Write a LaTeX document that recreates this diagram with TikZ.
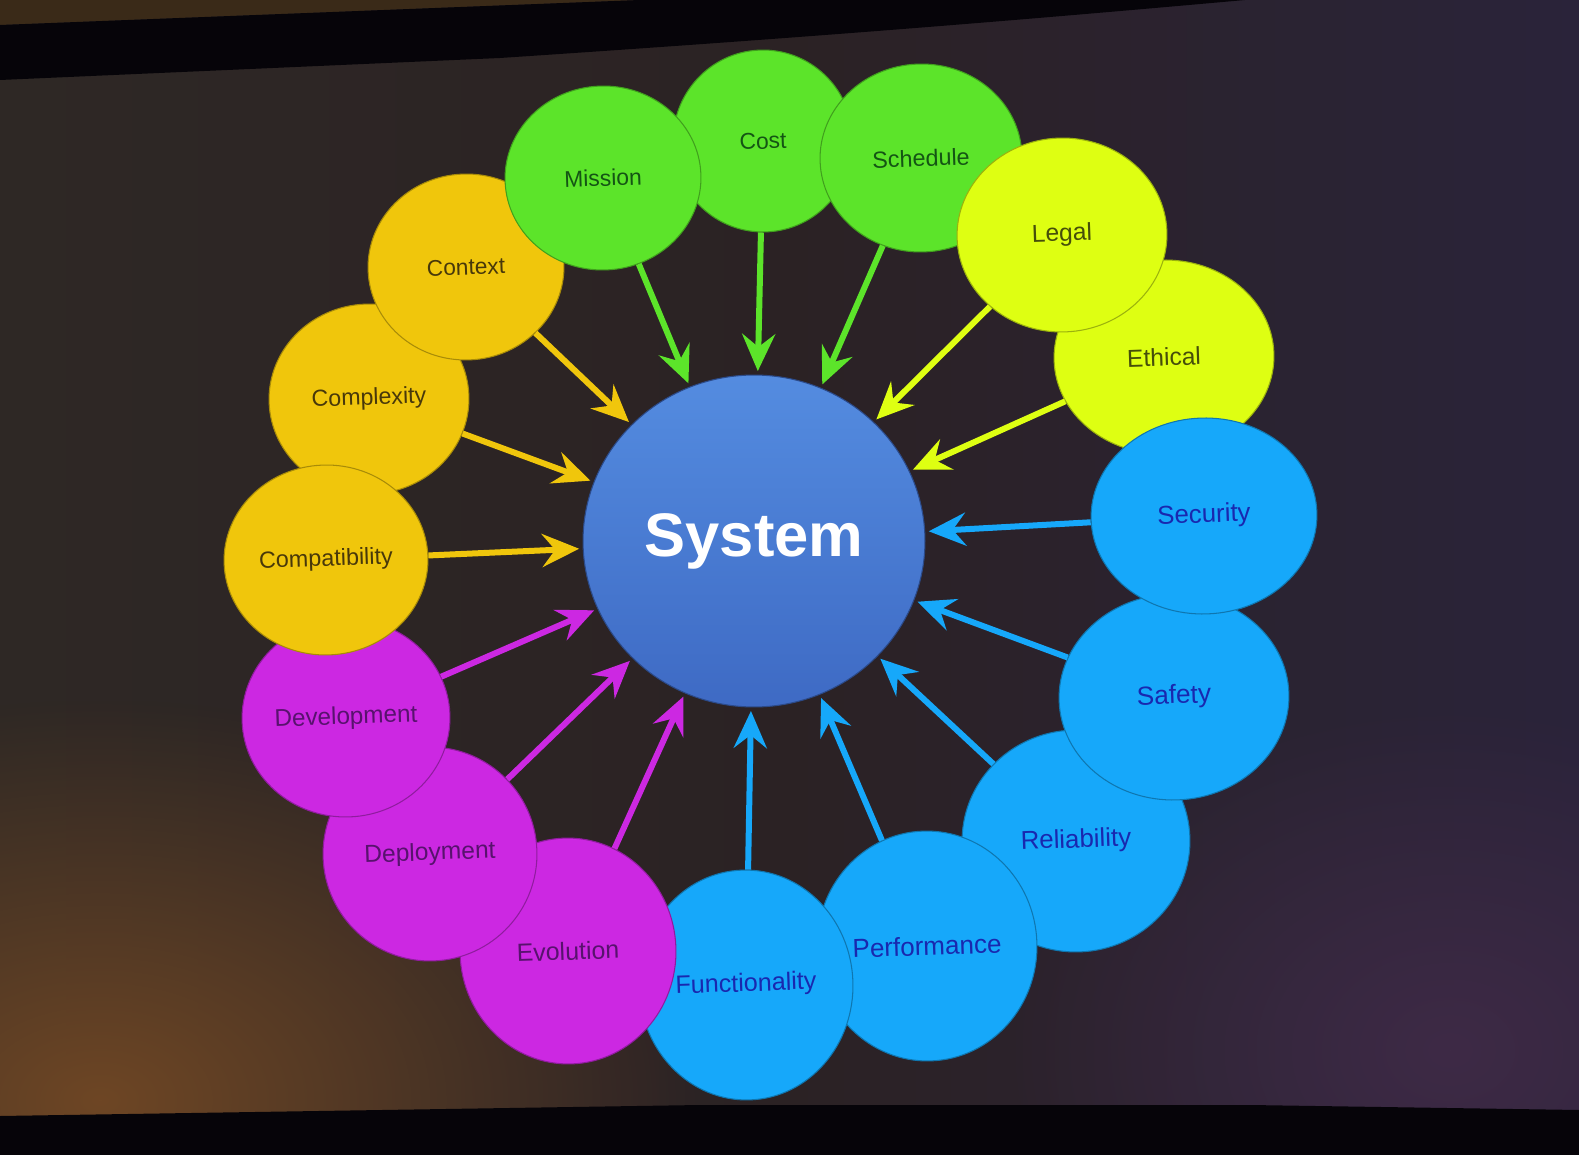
\documentclass[tikz,border=0pt]{standalone}
\usepackage{fontspec}
\setmainfont{Liberation Sans}
\usetikzlibrary{shapes.geometric,arrows.meta,fadings}
\definecolor{slideL}{RGB}{46,40,37}
\definecolor{slideM}{RGB}{43,34,36}
\definecolor{slideR}{RGB}{42,35,58}
\definecolor{topbrown}{RGB}{58,42,24}
\definecolor{bandblack}{RGB}{6,4,9}
\definecolor{warmglow}{RGB}{110,70,36}
\definecolor{purpglow}{RGB}{62,42,70}
\definecolor{cgreen}{RGB}{92,228,42}
\definecolor{cgreentx}{RGB}{20,85,20}
\definecolor{clime}{RGB}{222,255,18}
\definecolor{climetx}{RGB}{70,78,10}
\definecolor{cgold}{RGB}{240,198,12}
\definecolor{cgoldtx}{RGB}{72,56,10}
\definecolor{cmag}{RGB}{204,40,226}
\definecolor{cmagtx}{RGB}{88,18,110}
\definecolor{cblue}{RGB}{22,168,250}
\definecolor{cbluetx}{RGB}{25,40,175}
\definecolor{systop}{RGB}{84,140,224}
\definecolor{sysbot}{RGB}{62,106,196}
\tikzfading[name=glowfade, inner color=transparent!0, outer color=transparent!100]
\newcommand\fsz[1]{\fontsize{#1pt}{#1pt}\selectfont}
\begin{document}
\begin{tikzpicture}[x=0.02cm,y=-0.02cm,
  bub/.style n args={4}{ellipse, inner sep=0pt, minimum width={#1*0.04cm},
    minimum height={#2*0.04cm}, fill=#3, draw=#3!70!black, line width=0.6pt,
    text=#3tx, font=\fsz{#4}, rotate=2},
  arr/.style={-{Stealth[length=0.74cm,width=0.66cm,inset=0.26cm]},
    line width=0.12cm, draw=#1, shorten >=2pt}]
\useasboundingbox (0,0) rectangle (1579,1155);
% background
\shade[left color=slideL, right color=slideR, middle color=slideM] (0,0) rectangle (1579,1155);
\fill[warmglow, path fading=glowfade] (-500,700) rectangle (700,1500);
\fill[purpglow, path fading=glowfade] (1000,700) rectangle (1900,1400);
\fill[topbrown] (0,0) -- (640,0) -- (0,25) -- cycle;
\fill[bandblack] (0,25) -- (640,0) -- (1245,0)
  .. controls (1000,22) and (800,38) .. (500,58) -- (0,80) -- cycle;
\fill[bandblack] (0,1116) -- (700,1105) -- (1250,1105) -- (1579,1110)
  -- (1579,1155) -- (0,1155) -- cycle;
% circles
\node[bub={90}{91}{cgreen}{13.0}] (cost) at (763,141) {Cost};
\node[bub={100}{95}{cgold}{13.2}] (complexity) at (369,399) {Complexity};
\node[bub={98}{93}{cgold}{12.9}] (context) at (466,267) {Context};
\node[bub={98}{92}{cgreen}{13.0}] (mission) at (603,178) {Mission};
\node[bub={101}{94}{cgreen}{13.3}] (schedule) at (921,158) {Schedule};
\node[bub={110}{97}{clime}{14.0}] (ethical) at (1164,357) {Ethical};
\node[bub={105}{97}{clime}{14.0}] (legal) at (1062,235) {Legal};
\node[bub={114}{111}{cblue}{14.7}] (reliability) at (1076,841) {Reliability};
\node[bub={115}{103}{cblue}{14.9}] (safety) at (1174,697) {Safety};
\node[bub={113}{98}{cblue}{14.7}] (security) at (1204,516) {Security};
\node[bub={110}{115}{cblue}{14.8}] (performance) at (927,946) {Performance};
\node[bub={107}{115}{cblue}{14.3}] (functionality) at (746,985) {Functionality};
\node[bub={108}{113}{cmag}{14.2}] (evolution) at (568,951) {Evolution};
\node[bub={107}{107}{cmag}{14.0}] (deployment) at (430,854) {Deployment};
\node[bub={104}{99}{cmag}{13.8}] (development) at (346,718) {Development};
\node[bub={102}{95}{cgold}{13.3}] (compatibility) at (326,560) {Compatibility};
\node[ellipse, inner sep=0pt, minimum width=6.84cm, minimum height=6.64cm,
  top color=systop, bottom color=sysbot, draw=sysbot!70!black, line width=0.6pt,
  text=white, font=\bfseries\fsz{35}] (system) at (754,541) {System};
% arrows
\foreach \n in {mission,cost,schedule} \draw[arr=cgreen] (\n) -- (system);
\foreach \n in {legal,ethical} \draw[arr=clime] (\n) -- (system);
\foreach \n in {security,safety,reliability,performance,functionality} \draw[arr=cblue] (\n) -- (system);
\foreach \n in {evolution,deployment,development} \draw[arr=cmag] (\n) -- (system);
\foreach \n in {compatibility,complexity,context} \draw[arr=cgold] (\n) -- (system);
\end{tikzpicture}
\end{document}
